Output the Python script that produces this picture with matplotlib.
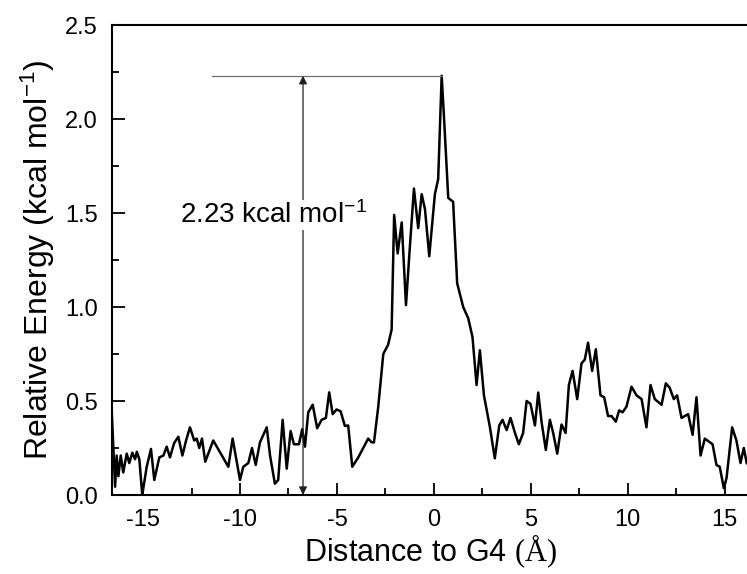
import matplotlib
matplotlib.use("Agg")
import matplotlib.pyplot as plt
from matplotlib.ticker import MultipleLocator

plt.rcParams['font.family'] = ['Liberation Sans', 'DejaVu Sans']
plt.rcParams['mathtext.fontset'] = 'custom'
plt.rcParams['mathtext.rm'] = 'Liberation Sans'
plt.rcParams['mathtext.it'] = 'Liberation Sans:italic'
plt.rcParams['mathtext.sf'] = 'Liberation Serif'
plt.rcParams['axes.unicode_minus'] = False

distance = [-16.61, -16.44, -16.36, -16.27, -16.15, -16.02, -15.84, -15.71, -15.55, -15.41,
            -15.32, -15.19, -15.04, -14.81, -14.59, -14.42, -14.16, -13.95, -13.78, -13.61,
            -13.40, -13.18, -12.97, -12.78, -12.58, -12.36, -12.23, -12.10, -11.96, -11.79,
            -11.38, -10.60, -10.38, -10.00, -9.83, -9.57, -9.38, -9.19, -8.97, -8.62,
            -8.45, -8.20, -8.03, -7.80, -7.59, -7.39, -7.22, -6.96, -6.79, -6.65,
            -6.48, -6.25, -6.02, -5.79, -5.57, -5.40, -5.22, -5.02, -4.81, -4.59,
            -4.42, -4.21, -3.90, -3.39, -3.21, -3.09, -2.87, -2.61, -2.36, -2.18,
            -2.05, -1.87, -1.66, -1.44, -1.24, -1.03, -0.81, -0.63, -0.46, -0.24,
            0.05, 0.22, 0.40, 0.52, 0.74, 0.99, 1.20, 1.51, 1.77, 1.99,
            2.20, 2.37, 2.58, 2.89, 3.14, 3.37, 3.54, 3.75, 3.95, 4.18,
            4.38, 4.60, 4.78, 4.98, 5.21, 5.38, 5.55, 5.77, 5.98, 6.15,
            6.36, 6.58, 6.79, 6.96, 7.15, 7.39, 7.61, 7.78, 7.95, 8.16,
            8.35, 8.59, 8.78, 8.98, 9.16, 9.38, 9.55, 9.73, 9.93, 10.19,
            10.45, 10.71, 10.96, 11.17, 11.39, 11.74, 11.96, 12.16, 12.37, 12.54,
            12.77, 13.11, 13.34, 13.54, 13.75, 13.97, 14.37, 14.57, 14.74, 14.95,
            15.09, 15.38, 15.60, 15.81, 15.98, 16.13, 16.40]
energy = [0.435, 0.044, 0.21, 0.10, 0.21, 0.12, 0.22, 0.17, 0.225, 0.19,
          0.23, 0.19, 0.00, 0.15, 0.245, 0.08, 0.20, 0.21, 0.257, 0.20,
          0.275, 0.31, 0.21, 0.29, 0.36, 0.29, 0.30, 0.25, 0.30, 0.177,
          0.29, 0.15, 0.30, 0.08, 0.15, 0.17, 0.25, 0.16, 0.28, 0.36,
          0.21, 0.06, 0.08, 0.40, 0.14, 0.34, 0.27, 0.27, 0.35, 0.257,
          0.44, 0.48, 0.355, 0.40, 0.41, 0.546, 0.43, 0.455, 0.445, 0.367,
          0.37, 0.15, 0.20, 0.30, 0.28, 0.28, 0.47, 0.75, 0.80, 0.88,
          1.49, 1.285, 1.45, 1.01, 1.32, 1.63, 1.42, 1.60, 1.52, 1.27,
          1.60, 1.68, 2.23, 2.01, 1.58, 1.56, 1.126, 1.00, 0.94, 0.84,
          0.585, 0.77, 0.53, 0.36, 0.195, 0.37, 0.40, 0.345, 0.41, 0.33,
          0.27, 0.33, 0.50, 0.485, 0.37, 0.545, 0.39, 0.24, 0.40, 0.33,
          0.22, 0.375, 0.33, 0.585, 0.66, 0.51, 0.70, 0.72, 0.81, 0.66,
          0.775, 0.53, 0.52, 0.42, 0.42, 0.39, 0.45, 0.44, 0.47, 0.576,
          0.53, 0.51, 0.36, 0.585, 0.51, 0.48, 0.594, 0.57, 0.51, 0.53,
          0.41, 0.43, 0.32, 0.52, 0.21, 0.30, 0.27, 0.16, 0.15, 0.036,
          0.09, 0.36, 0.29, 0.17, 0.25, 0.17, 0.14]

barrier = 2.23
barrier_label = "2.23 kcal mol$^{-1}$"
arrow_x = -6.75
hline_start = -11.44
peak_x = 0.40

fig = plt.figure(figsize=(7.47, 5.74), dpi=100)
ax = fig.add_axes([112/747, 79/574, (750-112)/747, 470/574])

ax.plot(distance, energy, color='black', lw=1.8)

ax.plot([hline_start, peak_x], [barrier, barrier], color='#707070', lw=0.9)
ax.annotate('', xy=(arrow_x, barrier), xytext=(arrow_x, 0),
            arrowprops=dict(arrowstyle='<|-|>', color='#202020', lw=0.9,
                            mutation_scale=12, shrinkA=0, shrinkB=0))
ax.text(-13.1, 1.49, barrier_label, fontsize=20, ha='left', va='center',
        bbox=dict(facecolor='white', edgecolor='none', pad=1))

ax.set_xlim(-16.6, 16.3)
ax.set_ylim(0, 2.5)
ax.xaxis.set_major_locator(MultipleLocator(5))
ax.xaxis.set_minor_locator(MultipleLocator(2.5))
ax.yaxis.set_major_locator(MultipleLocator(0.5))
ax.yaxis.set_minor_locator(MultipleLocator(0.25))
ax.yaxis.set_major_formatter(matplotlib.ticker.FormatStrFormatter('%.1f'))
ax.tick_params(which='both', direction='in', top=False, right=False, width=1.3,
               labelsize=17)
ax.tick_params(axis='x', pad=10)
ax.tick_params(axis='y', pad=10)
ax.tick_params(which='major', length=9)
ax.tick_params(which='minor', length=5)
for s in ax.spines.values():
    s.set_linewidth(1.5)

ax.set_xlabel("Distance to G4 $\\mathsf{(\\AA)}$", fontsize=22, labelpad=1)
ax.set_ylabel("Relative Energy (kcal mol$^{-1}$)", fontsize=23, labelpad=6)

fig.savefig("out.png", dpi=100)
